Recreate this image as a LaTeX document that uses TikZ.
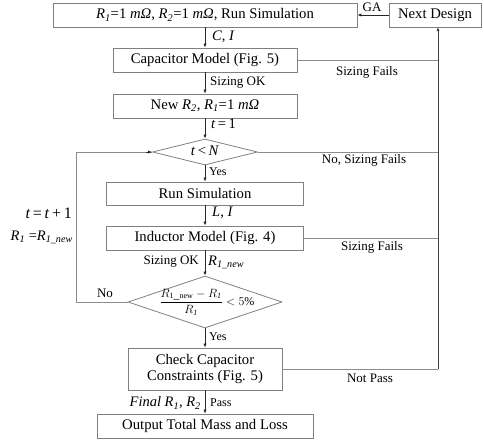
\documentclass[tikz,border=0pt]{standalone}
\usepackage{fontspec}
\setmainfont{Liberation Serif}
\usetikzlibrary{arrows.meta,shapes.geometric}
\newcommand\Rsub[1]{\textit{R}\textsubscript{\textit{#1}}}
\begin{document}
\begin{tikzpicture}[x=1pt,y=-1pt,
  boxtext/.style={font=\fontsize{14.7}{16.5}\selectfont},
  lbl/.style={font=\fontsize{13}{15}\selectfont, inner sep=0pt},
  smalllbl/.style={font=\fontsize{12}{14}\selectfont, inner sep=0pt},
  biglbl/.style={font=\fontsize{14.5}{16}\selectfont, inner sep=0pt},
  stepbox/.style={draw=black!50, line width=0.8pt, rectangle, inner sep=0pt, boxtext, align=center},
  decision/.style={draw=black!50, line width=0.8pt, diamond, inner sep=0pt},
  arr/.style={draw=black!85, line width=0.7pt, -{Latex[length=4pt,width=3.2pt]}},
  conn/.style={draw=black!45, line width=0.8pt},
  rail/.style={draw=black!75, line width=1pt}]
\useasboundingbox (0,0) rectangle (484,445);

% main column
\node[stepbox, minimum width=304pt, minimum height=24pt] (sim0) at (205,15)
  {\Rsub{1}=1 \textit{mΩ}, \Rsub{2}=1 \textit{mΩ}, Run Simulation};
\node[stepbox, minimum width=92pt, minimum height=24pt] (next) at (435,15) {Next Design};
\node[stepbox, minimum width=184pt, minimum height=24pt] (cap) at (205,60) {Capacitor Model (Fig. 5)};
\node[stepbox, minimum width=184pt, minimum height=24pt] (newr) at (205,106)
  {New \Rsub{2}, \Rsub{1}=1 \textit{mΩ}};
\node[decision, minimum width=105pt, minimum height=26pt] (d1) at (205,152) {};
\node[boxtext, inner sep=0pt] (d1txt) at (205,151) {\textit{t}\,<\,\textit{N}};
\node[stepbox, minimum width=197pt, minimum height=23pt] (run) at (205,193.5) {Run Simulation};
\node[stepbox, minimum width=197pt, minimum height=24pt] (ind) at (205,238) {Inductor Model (Fig. 4)};
\node[decision, minimum width=154pt, minimum height=52pt] (d2) at (205,302) {};
\node[inner sep=0pt, font=\fontsize{12}{14}\selectfont] (d2txt) at (207,302)
  {$\displaystyle\frac{R_{\mathrm{1\_new}}-R_{\mathit{1}}}{R_{\mathit{1}}}<5\%$};
\node[stepbox, minimum width=154pt, minimum height=42pt] (check) at (205,369)
  {Check Capacitor\\[-1pt]Constraints (Fig. 5)};
\node[stepbox, minimum width=216pt, minimum height=24pt] (out) at (205,426) {Output Total Mass and Loss};

% downward flow
\draw[arr] (sim0.south) -- (cap.north);
\draw[arr] (cap.south) -- (newr.north);
\draw[arr] (newr.south) -- (d1.north);
\draw[arr] (d1.south) -- (run.north);
\draw[arr] (run.south) -- (ind.north);
\draw[arr] (ind.south) -- (d2.north);
\draw[arr] (d2.south) -- (check.north);
\draw[arr] (check.south) -- (out.north);
\draw[arr] (next.west) -- (sim0.east);

% failure rail on the right
\coordinate (rbot) at (438,369);
\coordinate (rtop) at (438,27);
\draw[conn] (cap.east) -- (cap.east -| rbot);
\draw[conn] (d1.east) -- (d1.east -| rbot);
\draw[conn] (ind.east) -- (ind.east -| rbot);
\draw[conn] (check.east) -- (rbot);
\draw[rail, -{Latex[length=4pt,width=3.2pt]}] (rbot) -- (rtop);

% iteration loop on the left
\coordinate (lp) at (76,302);
\draw[conn] (d2.west) -- (lp) |- (d1.west);
\draw[arr, draw=black!85] ([xshift=-6pt]d1.west) -- (d1.west);

% labels
\node[lbl] (ga) at (372,7) {GA};
\node[biglbl, anchor=west] (ci) at (212,37) {\textit{C}, \textit{I}};
\node[lbl, anchor=west] (ok1) at (210,83) {Sizing OK};
\node[biglbl, anchor=west] (t1) at (211,124) {\textit{t}\,=\,1};
\node[smalllbl, anchor=west] (yes1) at (209,172) {Yes};
\node[biglbl, anchor=west] (li) at (212,213) {\textit{L}, \textit{I}};
\node[lbl, anchor=east] (ok2) at (199,262) {Sizing OK};
\node[biglbl, anchor=west] (r1new) at (208,262) {\Rsub{1\_new}};
\node[smalllbl, anchor=west] (yes2) at (209,337) {Yes};
\node[biglbl, anchor=east] (final) at (201,403) {\textit{Final} \Rsub{1}, \Rsub{2}};
\node[smalllbl, anchor=west] (pass) at (210,403) {Pass};
\node[lbl] (no) at (105,293) {No};
\node[font=\fontsize{16}{18}\selectfont, inner sep=0pt, anchor=east] (tinc) at (72,213)
  {\textit{t}\,=\,\textit{t}\,+\,1};
\node[biglbl, anchor=east] (rupd) at (73,237) {\Rsub{1} =\Rsub{1\_new}};
\node[lbl] (f1) at (367,72) {Sizing Fails};
\node[lbl] (f2) at (364,160) {No, Sizing Fails};
\node[lbl] (f3) at (372,247) {Sizing Fails};
\node[lbl] (f4) at (370,378) {Not Pass};
\end{tikzpicture}
\end{document}
